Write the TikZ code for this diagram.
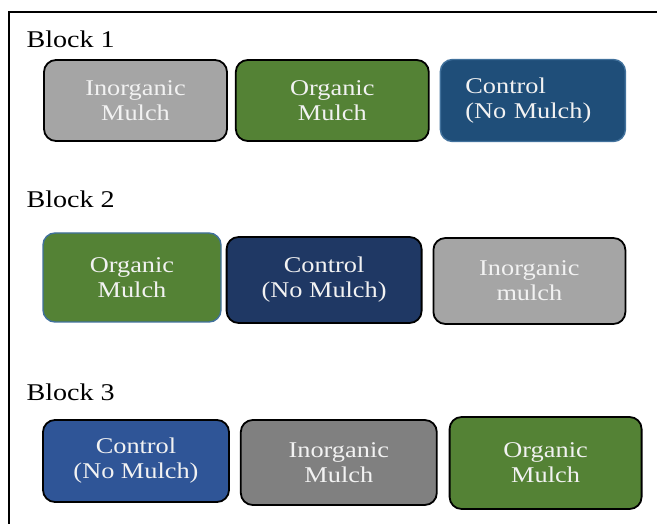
\documentclass[tikz,border=0pt]{standalone}
\usepackage{fontspec}
\setmainfont{Liberation Serif}[FakeStretch=1.17]
\usetikzlibrary{positioning}
\definecolor{inorgLight}{HTML}{A5A5A5}
\definecolor{inorgDark}{HTML}{808080}
\definecolor{orgGreen}{HTML}{548235}
\definecolor{ctrlSteel}{HTML}{1F4E79}
\definecolor{ctrlNavy}{HTML}{1F3864}
\definecolor{ctrlBlue}{HTML}{2F5597}
\definecolor{rimBlue}{HTML}{41719C}
\tikzset{
    x=1pt, y=-1pt, % pixel-like units, y grows downward
    plotbox/.style={draw=black, line width=1.8pt, rounded corners=12pt, inner sep=0pt,
        align=center, text=white!95!black, font=\fontsize{22.5}{25}\selectfont}, % one plot of a block
    bluerim/.style={draw=rimBlue, line width=1.4pt}, % plots with a blue edge
    blocklabel/.style={anchor=base west, font=\fontsize{24}{26}\selectfont}, % the block titles
}
\begin{document}
\begin{tikzpicture}
    \useasboundingbox (0,0) rectangle (657,524);
    \draw[line width=1.2pt] (9,524) -- (9,12) -- (657,12);
    % Block 1
    \node[blocklabel] (lab1) at (23,48) {Block 1};
    \node[plotbox, fill=inorgLight, minimum width=183pt, minimum height=81pt] (b1inorg) at (135.5,100.5) {Inorganic\\Mulch};
    \node[plotbox, fill=orgGreen, minimum width=193pt, minimum height=81pt, right=7pt of b1inorg] (b1org) {Organic\\Mulch};
    \node[plotbox, bluerim, fill=ctrlSteel, align=left, text width=135pt, minimum width=185pt, minimum height=82pt, right=10pt of b1org] (b1ctrl) {Control\\(No Mulch)};
    % Block 2
    \node[blocklabel] (lab2) at (23,208) {Block 2};
    \node[plotbox, bluerim, fill=orgGreen, minimum width=178pt, minimum height=89pt] (b2org) at (132,277.5) {Organic\\Mulch};
    \node[plotbox, fill=ctrlNavy, minimum width=195pt, minimum height=86pt, right=4pt of b2org, yshift=-2.5pt] (b2ctrl) {Control\\(No Mulch)};
    \node[plotbox, fill=inorgLight, minimum width=192pt, minimum height=86pt, right=10pt of b2ctrl, yshift=-1pt] (b2inorg) {Inorganic\\mulch};
    % Block 3
    \node[blocklabel] (lab3) at (23,400) {Block 3};
    \node[plotbox, fill=ctrlBlue, minimum width=186pt, minimum height=82pt] (b3ctrl) at (136,461) {Control\\(No Mulch)};
    \node[plotbox, fill=inorgDark, minimum width=196pt, minimum height=85pt, right=10pt of b3ctrl, yshift=-1.5pt] (b3inorg) {Inorganic\\Mulch};
    \node[plotbox, fill=orgGreen, minimum width=192pt, minimum height=92pt, right=11pt of b3inorg, yshift=-0.5pt] (b3org) {Organic\\Mulch};
\end{tikzpicture}
\end{document}
